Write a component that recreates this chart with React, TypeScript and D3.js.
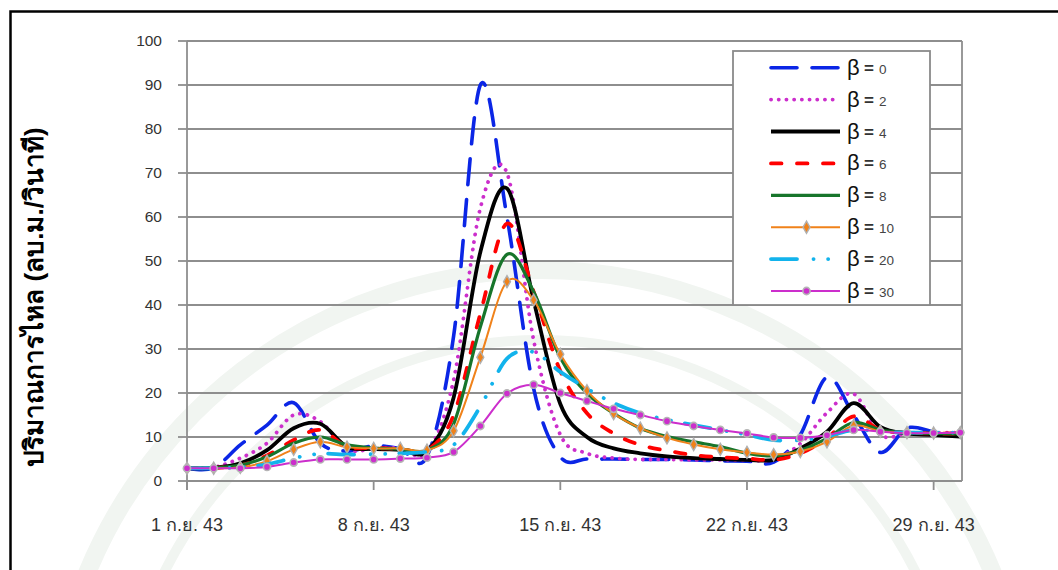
import React from "react";
import * as d3 from "d3";

const days = [1,2,3,4,5,6,7,8,9,10,11,12,13,14,15,16,17,18,19,20,21,22,23,24,25,26,27,28,29,30];

const beta0  = [2.9,3.0,8.2,12.7,17.8,8.6,6.8,8.0,7.3,5.6,33,90,60,21,5.5,5.0,5.0,4.9,4.9,4.8,4.6,4.5,4.3,10.5,23.6,15,6.5,12,11.2,10.6];
const beta2  = [2.9,3.1,5.2,8.6,15.0,13.5,7.2,7.3,7.5,6.5,23,62,70,32,10.5,6.3,5.2,4.9,4.9,4.8,4.8,4.7,4.9,8.5,15.5,19.8,10.5,10.8,11,11];
const beta4  = [2.9,3.0,4.0,7.0,12.0,13.0,7.8,7.3,7.1,6.8,19,52,66.5,41,17.5,10.0,7.4,6.3,5.6,5.2,5.0,4.8,4.8,7.4,11.2,17.7,12.3,10.8,10.5,10.1];
const beta6  = [2.9,3.0,3.5,5.8,9.3,11.6,7.8,7.5,7.3,7.0,15,38,58.5,43,25,15.4,10.8,8.2,6.9,5.9,5.4,5.1,4.8,6.3,9.7,14.7,11.6,11.0,10.8,10.8];
const beta8  = [2.9,3.0,3.6,5.5,8.6,10.0,8.2,7.5,7.3,7.0,13,35,51.5,43,28,19.9,15.4,12.0,10.1,8.9,7.8,6.3,5.7,7.0,9.7,13.3,11.6,11.0,10.8,10.7];
const beta10 = [2.9,2.9,3.1,4.5,7.2,8.9,7.7,7.4,7.4,7.0,11.4,28.1,45.3,41.1,28.8,20.5,15.3,12.0,9.8,8.3,7.2,6.5,6.0,6.7,8.9,12.6,11.3,11.0,10.9,11.0];
const beta20 = [2.9,2.9,3.1,3.8,5.2,6.2,6.0,6.1,6.3,6.6,8.2,16.9,27.8,29.3,24.8,21.0,17.7,15.4,13.9,12.7,11.6,10.5,9.3,9.3,10.1,11.6,11.2,11.0,11.0,11.0];
const beta30 = [2.9,2.9,2.9,3.2,4.2,4.9,4.9,4.9,5.1,5.3,6.6,12.5,19.9,21.9,20.0,18.2,16.4,15.0,13.6,12.5,11.6,10.8,9.9,9.8,10.4,11.6,11.2,10.9,10.9,11.0];

const seriesLabels = ["0","2","4","6","8","10","20","30"];
const yTicks = [0,10,20,30,40,50,60,70,80,90,100];
const xTickDays = [1,8,15,22,29];
const xTickLabels = ["1 ก.ย. 43","8 ก.ย. 43","15 ก.ย. 43","22 ก.ย. 43","29 ก.ย. 43"];
const yTitle = "ปริมาณการไหล (ลบ.ม./วินาที)";

const styles = [
  { color: "#0b26e6", width: 3.6, dash: "26 15", cap: "round", marker: null },
  { color: "#cc2ecc", width: 3.8, dash: "0.1 7.6", cap: "round", marker: null },
  { color: "#000000", width: 3.8, dash: null, cap: "butt", marker: null },
  { color: "#ff0000", width: 3.8, dash: "10.5 15.5", cap: "round", marker: null },
  { color: "#17752b", width: 3.2, dash: null, cap: "butt", marker: null },
  { color: "#f0821a", width: 2, dash: null, cap: "butt", marker: "diamond" },
  { color: "#12b3ec", width: 3.8, dash: "26 16.5 0.1 14.5 0.1 14", cap: "round", marker: null },
  { color: "#cc2ecc", width: 2, dash: null, cap: "butt", marker: "circle" },
];

const allSeries = [beta0, beta2, beta4, beta6, beta8, beta10, beta20, beta30];

const W = 1058, H = 570;
const left = 187, right = 962, top = 41, bottom = 481;

export default function App() {
  const x = d3.scaleLinear().domain([1, 30]).range([left, 960.3]);
  const y = d3.scaleLinear().domain([0, 100]).range([bottom, top]);
  const line = d3.line<number>()
    .x((_, i) => x(days[i]))
    .y((d) => y(d))
    .curve(d3.curveCardinal.tension(0));
  const diamond = d3.symbol().type(d3.symbolDiamond).size(42)();
  const gridColor = "#8e8e8e";
  const font = "'Liberation Sans', Arial, sans-serif";

  const marker = (type: string | null, color: string, cx: number, cy: number, key: any) => {
    if (type === "circle")
      return <circle key={key} cx={cx} cy={cy} r={3.6} fill={color} stroke="#b5b5b5" strokeWidth={1.6} />;
    if (type === "diamond")
      return <path key={key} d={diamond as string} transform={`translate(${cx},${cy})`} fill={color} stroke="#b0b0b0" strokeWidth={1.4} />;
    return null;
  };

  const legendX0 = 771, legendX1 = 840, legendY0 = 67.7, legendDy = 31.9;

  return (
    <svg width={W} height={H} style={{ position: "absolute", left: 0, top: 0, background: "#fff" }} fontFamily={font}>
      <rect x={0} y={0} width={W} height={H} fill="#fff" />
      {/* faint watermark rings */}
      <g fill="none" stroke="#f1f5f1">
        <circle cx={540} cy={760} r={490} strokeWidth={18} />
        <circle cx={540} cy={760} r={420} strokeWidth={10} />
      </g>
      {/* outer frame */}
      <rect x={10.5} y={11.5} width={1070} height={600} fill="none" stroke="#000" strokeWidth={2.5} />

      {/* gridlines */}
      {yTicks.filter((t) => t > 0).map((t) => (
        <line key={"g" + t} x1={left} x2={right} y1={y(t)} y2={y(t)} stroke={gridColor} strokeWidth={1.8} />
      ))}
      {/* right border */}
      <line x1={right} x2={right} y1={top} y2={bottom} stroke={gridColor} strokeWidth={1.8} />
      {/* y axis */}
      <line x1={left} x2={left} y1={top} y2={bottom + 9} stroke={gridColor} strokeWidth={1.8} />
      {yTicks.map((t) => (
        <g key={"yt" + t}>
          <line x1={left - 9} x2={left} y1={y(t)} y2={y(t)} stroke={gridColor} strokeWidth={1.8} />
          <text x={162} y={y(t)} dy="0.35em" textAnchor="end" fontSize={15.5} fill="#333">{t}</text>
        </g>
      ))}
      {/* x axis */}
      <line x1={left} x2={right} y1={bottom} y2={bottom} stroke={gridColor} strokeWidth={1.8} />
      {xTickDays.map((d, i) => (
        <g key={"xt" + d}>
          <line x1={x(d)} x2={x(d)} y1={bottom} y2={bottom + 9} stroke={gridColor} strokeWidth={1.8} />
          <text x={x(d)} y={531} textAnchor="middle" fontSize={18} fill="#333">{xTickLabels[i]}</text>
        </g>
      ))}
      {/* y title */}
      <text transform={`translate(43,297) rotate(-90)`} textAnchor="middle" fontSize={26} fontWeight="bold" fill="#000">{yTitle}</text>

      {/* series */}
      {allSeries.map((s, si) => {
        const st = styles[si];
        return (
          <g key={"s" + si}>
            <path d={line(s) as string} fill="none" stroke={st.color} strokeWidth={st.width}
              strokeDasharray={st.dash || undefined} strokeLinecap={st.cap as any} strokeLinejoin="round" />
            {st.marker && s.map((v, i) => marker(st.marker, st.color, x(days[i]), y(v), i))}
          </g>
        );
      })}

      {/* legend */}
      <rect x={733} y={51} width={197} height={254} fill="#fff" stroke="#8a8a8a" strokeWidth={1.8} />
      {seriesLabels.map((lab, i) => {
        const st = styles[i];
        const ly = legendY0 + i * legendDy;
        return (
          <g key={"l" + i}>
            <line x1={legendX0} x2={legendX1} y1={ly} y2={ly} stroke={st.color} strokeWidth={st.width}
              strokeDasharray={st.dash || undefined} strokeLinecap={st.cap as any} />
            {marker(st.marker, st.color, (legendX0 + legendX1) / 2 + 1, ly, "m")}
            <text x={847} y={ly + 7} fontSize={22} fill="#111">β</text>
            <text x={864} y={ly + 6} fontSize={17} fontWeight="bold" fill="#333">=</text>
            <text x={879} y={ly + 6} fontSize={13.5} fill="#444">{lab}</text>
          </g>
        );
      })}
    </svg>
  );
}
